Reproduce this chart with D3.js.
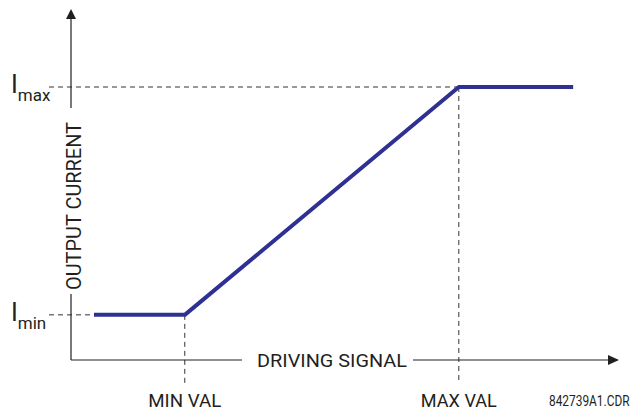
<!DOCTYPE html>
<html>
<head>
<meta charset="utf-8">
<script src="https://cdn.jsdelivr.net/npm/d3@7"></script>
<style>
  body { margin: 0; background: #fff; }
  svg text { font-family: "Roboto", "Liberation Sans", sans-serif; fill: #231f20; }
</style>
</head>
<body>
<svg id="chart" width="635" height="412"></svg>
<script>
// driving signal (x) vs output current (y), arbitrary units
var signal  = [0.42, 2.08, 7.09, 9.18];
var current = [1.29, 1.29, 7.8, 7.8];

var xTickVals = [2.08, 7.09];
var xTickLabels = ["MIN VAL", "MAX VAL"];
var yTickVals = [1.29, 7.8];
var yTickSubs = ["min", "max"];

var svg = d3.select("#chart");

var x = d3.scaleLinear().domain([0, 10]).range([71, 618]);
var y = d3.scaleLinear().domain([0, 10]).range([360, 10]);

var blue = "#2e3192", ink = "#231f20";

// dashed guides
svg.selectAll("line.hguide")
  .data(yTickVals)
  .enter().append("line")
    .attr("class", "hguide")
    .attr("x1", 49)
    .attr("x2", function(d, i) { return i ? x(xTickVals[1]) : x(signal[0]); })
    .attr("y1", function(d) { return y(d); })
    .attr("y2", function(d) { return y(d); })
    .attr("stroke", "#333")
    .attr("stroke-width", 1)
    .attr("stroke-dasharray", "5,4");

svg.selectAll("line.vguide")
  .data(xTickVals)
  .enter().append("line")
    .attr("class", "vguide")
    .attr("x1", function(d) { return x(d); })
    .attr("x2", function(d) { return x(d); })
    .attr("y1", function(d, i) { return y(yTickVals[i]); })
    .attr("y2", 384)
    .attr("stroke", "#333")
    .attr("stroke-width", 1)
    .attr("stroke-dasharray", "5,4");

// axes (broken around their titles)
var axisG = svg.append("g").attr("stroke", ink).attr("stroke-width", 1.2);
axisG.append("line").attr("x1", x(0)).attr("x2", x(0)).attr("y1", 16).attr("y2", 108);
axisG.append("line").attr("x1", x(0)).attr("x2", x(0)).attr("y1", 294).attr("y2", y(0));
axisG.append("line").attr("x1", x(0)).attr("x2", 242).attr("y1", y(0)).attr("y2", y(0));
axisG.append("line").attr("x1", 413).attr("x2", 610).attr("y1", y(0)).attr("y2", y(0));

svg.append("path")
  .attr("d", "M" + x(0) + ",9L" + (x(0) - 5) + ",19L" + (x(0) + 5) + ",19Z")
  .attr("fill", ink);
svg.append("path")
  .attr("d", "M619," + y(0) + "L608," + (y(0) - 5) + "L608," + (y(0) + 5) + "Z")
  .attr("fill", ink);

svg.append("text")
  .attr("transform", "translate(81,206) rotate(-90)")
  .attr("text-anchor", "middle")
  .attr("font-size", 19.5)
  .attr("textLength", 168)
  .attr("lengthAdjust", "spacingAndGlyphs")
  .text("OUTPUT CURRENT");

svg.append("text")
  .attr("x", 257)
  .attr("y", y(0) + 7)
  .attr("font-size", 19)
  .attr("textLength", 150)
  .attr("lengthAdjust", "spacingAndGlyphs")
  .text("DRIVING SIGNAL");

// transfer curve
var line = d3.line()
  .x(function(d, i) { return x(signal[i]); })
  .y(function(d) { return y(d); });

svg.append("path")
  .datum(current)
  .attr("d", line)
  .attr("fill", "none")
  .attr("stroke", blue)
  .attr("stroke-width", 4)
  .attr("stroke-linejoin", "round");

// tick labels
var xLabW = [73, 76];
svg.selectAll("text.xlab")
  .data(xTickVals)
  .enter().append("text")
    .attr("class", "xlab")
    .attr("x", function(d, i) { return x(d) - xLabW[i] / 2; })
    .attr("y", 407)
    .attr("font-size", 19)
    .attr("textLength", function(d, i) { return xLabW[i]; })
    .attr("lengthAdjust", "spacingAndGlyphs")
    .text(function(d, i) { return xTickLabels[i]; });

var ylab = svg.selectAll("text.ylab")
  .data(yTickVals)
  .enter().append("text")
    .attr("class", "ylab")
    .attr("x", 11)
    .attr("y", function(d) { return y(d) + 6; })
    .attr("font-size", 25);
ylab.append("tspan").text("I");
ylab.append("tspan")
  .attr("dy", 8)
  .attr("dx", 0)
  .attr("font-size", 17)
  .text(function(d, i) { return yTickSubs[i]; });

// drawing id, squeezed to look condensed
svg.append("text")
  .attr("transform", "translate(549,406) scale(0.85,1)")
  .attr("font-size", 14)
  .text("842739A1.CDR");
</script>
</body>
</html>
